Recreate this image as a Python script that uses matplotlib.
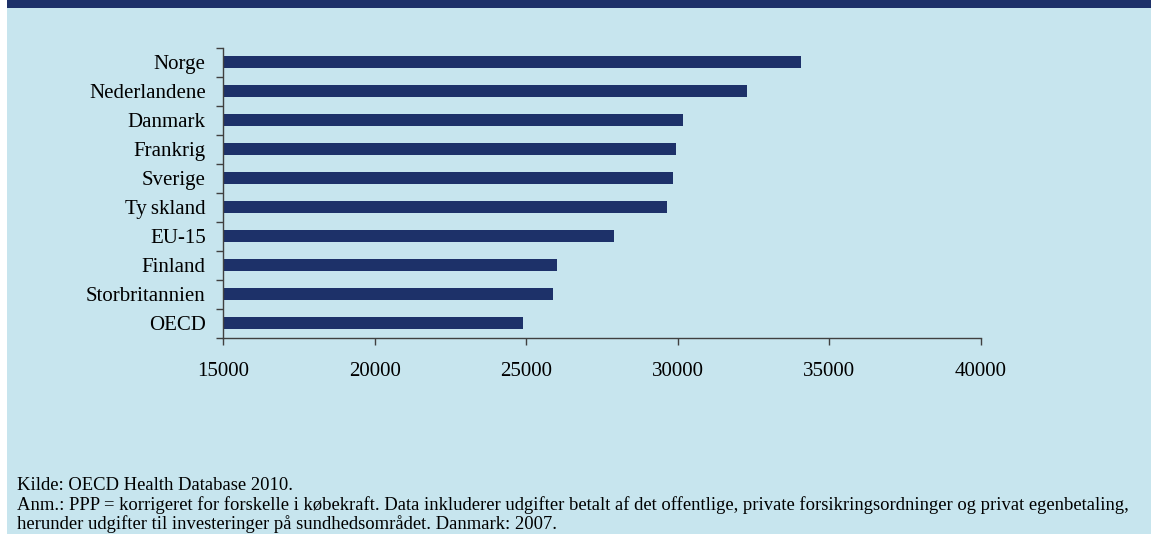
import matplotlib
matplotlib.use("Agg")
import matplotlib.pyplot as plt
from matplotlib.patches import Rectangle

categories = ["Norge", "Nederlandene", "Danmark", "Frankrig", "Sverige",
              "Tyskland", "EU-15", "Finland", "Storbritannien", "OECD"]
values = [34070, 32280, 30170, 29940, 29840, 29640, 27890, 26010, 25880, 24890]
xticks = [15000, 20000, 25000, 30000, 35000, 40000]
tick_labels = ["15000", "20000", "25000", "30000", "35000", "40000"]
display_labels = ["Norge", "Nederlandene", "Danmark", "Frankrig", "Sverige",
                  "Ty\u2009skland", "EU-15", "Finland", "Storbritannien", "OECD"]

source = "Kilde: OECD Health Database 2010."
note1 = ("Anm.: PPP = korrigeret for forskelle i købekraft. Data inkluderer udgifter betalt af det "
         "offentlige, private forsikringsordninger og privat egenbetaling,")
note2 = "herunder udgifter til investeringer på sundhedsområdet. Danmark: 2007."

BG = "#C7E5EE"
NAVY = "#1D3169"
W, H = 1151, 534

plt.rcParams['font.family'] = ['Liberation Serif', 'DejaVu Serif']

fig = plt.figure(figsize=(W / 100, H / 100), dpi=100, facecolor=BG)
# top band and left white strip
fig.patches.append(Rectangle((0, 1 - 7.5 / H), 1, 7.5 / H, transform=fig.transFigure,
                             facecolor=NAVY, edgecolor='none', zorder=0))
fig.patches.append(Rectangle((0, 0), 7 / W, 1, transform=fig.transFigure,
                             facecolor='white', edgecolor='none', zorder=1))

ax = fig.add_axes([223 / W, 1 - 337.5 / H, (981 - 223) / W, (337.5 - 47.5) / H])
ax.set_facecolor(BG)
ypos = list(range(len(categories)))
ax.barh(ypos, values, height=0.4, color=NAVY, left=0)
ax.set_xlim(15000, 40000)
ax.set_ylim(len(categories) - 0.5, -0.5)

ax.set_xticks(xticks)
ax.set_xticklabels(tick_labels, fontsize=15)
ax.set_yticks(ypos)
ax.set_yticklabels(display_labels, fontsize=15)
ax.set_yticks([i - 0.5 for i in range(len(categories) + 1)], minor=True)

ax.tick_params(axis='y', which='major', length=0, pad=12.5)
ax.tick_params(axis='y', which='minor', length=5, width=1, color='#404040', direction='out')
ax.tick_params(axis='x', which='major', length=5, width=1, color='#404040', direction='out', pad=13)

for s in ['top', 'right']:
    ax.spines[s].set_visible(False)
for s in ['left', 'bottom']:
    ax.spines[s].set_color('#404040')
    ax.spines[s].set_linewidth(1)

fs = 13.4
fig.text(17 / W, 1 - 490 / H, source, fontsize=fs, va='baseline', ha='left')
fig.text(17 / W, 1 - 510 / H, note1, fontsize=fs, va='baseline', ha='left')
fig.text(17 / W, 1 - 529 / H, note2, fontsize=fs, va='baseline', ha='left')

fig.savefig("out.png", dpi=100, facecolor=BG)
